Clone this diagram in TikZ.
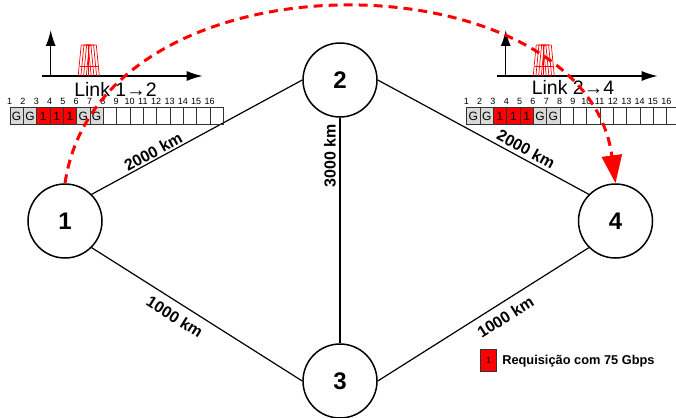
\documentclass[tikz,border=0pt]{standalone}
\usepackage{fontspec}
\setmainfont{Liberation Sans}
\usetikzlibrary{arrows.meta}

\begin{document}
\begin{tikzpicture}[x=1pt, y=-1pt,
    vertex/.style={draw, circle, line width=1.5pt, minimum size=74pt, inner sep=0pt, font=\fontsize{24}{26}\selectfont\bfseries},
    edge/.style={line width=1.2pt},
    km/.style={sloped, inner sep=1.5pt, font=\fontsize{16}{18}\selectfont\bfseries},
    slot/.style={draw=black!80, line width=0.8pt, minimum width=13.33pt, minimum height=16.7pt, inner sep=0pt, font=\fontsize{12}{14}\selectfont},
    guard/.style={fill=black!15},
    busy/.style={fill=red},
    idx/.style={anchor=south, inner sep=2.5pt, font=\fontsize{9}{10}\selectfont},
    axis/.style={line width=1.5pt, -{Latex[length=16pt,width=10pt]}},
    carrier/.style={red, line width=0.7pt},
    lbl/.style={font=\fontsize{19.5}{21}\selectfont}]
\useasboundingbox (0,0) rectangle (676,417);

    % Topologia
    \node[vertex] (n1) at (65,221) {1};
    \node[vertex] (n2) at (340,80) {2};
    \node[vertex] (n3) at (340,381) {3};
    \node[vertex] (n4) at (615.5,221) {4};

    \draw[edge] (n1.north east) -- node[km, above, pos=0.31] (d12) {2000 km} (n2.west);
    \draw[edge] (n1.south east) -- node[km, below=6pt, pos=0.43] (d13) {1000 km} (n3.west);
    \draw[edge] (n3.north) -- node[km, above=2pt, pos=0.83] (d23) {3000 km} (n2.south);
    \draw[edge] (n2.east) -- node[km, above=2pt, pos=0.68] (d24) {2000 km} (n4.north west);
    \draw[edge] (n3.east) -- node[km, below=6pt, pos=0.57] (d34) {1000 km} (n4.south west);

    % Espectro de cada enlace
    \foreach \r/\x in {a/50.7, b/505.7} {
        \coordinate (\r o) at (\x,76);
        \coordinate (\r h) at ({\x-9},76);
        \draw[axis] (\r o) -- ++(0,-46);
        \draw[axis] (\r h) -- ++(161,0);
        \foreach \k in {0,...,3}
            \draw[carrier] ({\x+27.5+2.7*\k},76) -- ++(3,-31) -- ++(7,0) -- ++(3,31);
        \draw[carrier] ({\x+29},66) -- ++(18,0);
        \draw[carrier] ({\x+37.5},45) -- ++(0,31);
    }
    \node[lbl] (la) at (115.5,89) {Link 1→2};
    \node[lbl] (lb) at (573,87) {Link 2→4};

    % Slots de frequencia
    \foreach \r/\x in {a/10, b/466.7} {
        \foreach \i in {1,...,16} {
            \node[slot] (\r\i) at ({\x+(\i-0.5)*13.33},116) {};
            \node[idx] (\r n\i) at (\r\i.north west) {\i};
        }
        \foreach \i/\t/\s in {1/G/guard, 2/G/guard, 3/1/busy, 4/1/busy, 5/1/busy, 6/G/guard, 7/G/guard}
            \node[slot, \s] (\r f\i) at (\r\i) {\t};
    }

    % Legenda
    \node[slot, busy, minimum width=16pt, minimum height=22pt, font=\fontsize{9}{10}\selectfont] (key) at (488.7,360.8) {1};
    \node[anchor=west, inner sep=5pt, font=\fontsize{12.8}{14}\selectfont\bfseries] (keytxt) at (key.east) {Requisição com 75 Gbps};

    % Caminho da requisicao 1 -> 2 -> 4
    \draw[red, line width=3pt, dash pattern=on 9pt off 6pt, -{Triangle[length=28pt,width=20pt]}]
        (n1.north) .. controls (100,-55) and (585,-45) .. (n4.north);
\end{tikzpicture}
\end{document}
